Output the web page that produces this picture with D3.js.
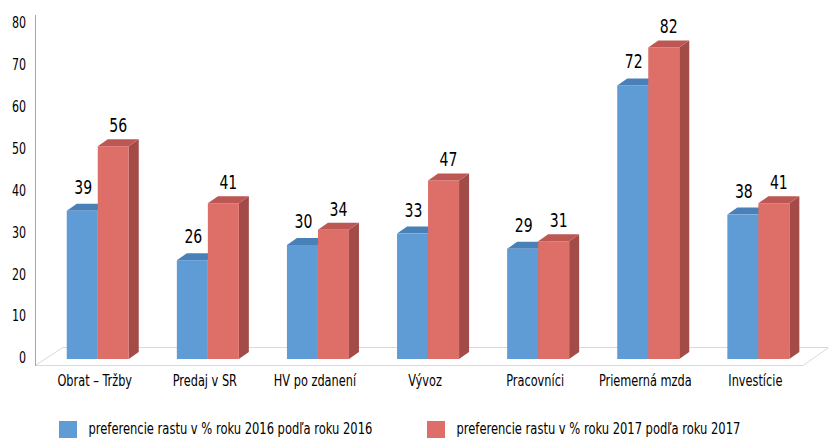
<!DOCTYPE html>
<html><head><meta charset="utf-8">
<script src="https://cdn.jsdelivr.net/npm/d3@7"></script>
<style>
html,body{margin:0;padding:0;background:#fff;}
svg{display:block;font-family:"Liberation Sans Narrow","DejaVu Sans Condensed","Roboto Condensed",sans-serif;}
</style></head>
<body><svg id="c" width="828" height="438"></svg>
<script>
const categories = ["Obrat – Tržby","Predaj v SR","HV po zdanení","Vývoz","Pracovníci","Priemerná mzda","Investície"];
const seriesNames = ["preferencie rastu v % roku 2016 podľa roku 2016","preferencie rastu v % roku 2017 podľa roku 2017"];
const values2016 = [39,26,30,33,29,72,38];
const values2017 = [56,41,34,47,31,82,41];
const yTicks = [0,10,20,30,40,50,60,70,80];

const svg = d3.select("#c");
const fronts = ["#5f9bd4","#dd6e68"];
const tops = ["#4a80b8","#bd5753"];
const sides = ["#3f6f9f","#a24b47"];
const DX = 10, DY = -7;

function condense(sel, k){
  sel.each(function(){
    const w = this.getComputedTextLength();
    d3.select(this).attr("textLength", w*k).attr("lengthAdjust","spacingAndGlyphs");
  });
}

const yAxisScale = d3.scaleLinear().domain([0,80]).range([358,23]);
const yBar = d3.scaleLinear().domain([0,80]).range([359,55]);

const x0 = d3.scaleBand().domain(categories).range([42.7, 42.7+7*110.1]);
const x1 = d3.scaleBand().domain([0,1]).range([0,62]);

const floor = svg.append("g").attr("stroke","#d9d9d9").attr("fill","none").attr("stroke-width",1);
floor.append("path").attr("d","M35,365.5 L803,365.5 L828,348");
floor.append("path").attr("d","M35,365.5 L63,347.5 L828,347.5");

svg.append("line").attr("x1",35.5).attr("x2",35.5).attr("y1",15).attr("y2",366)
  .attr("stroke","#a6a6a6").attr("stroke-width",1);

const yAxis = d3.axisLeft(yAxisScale).tickValues(yTicks).tickSize(0).tickPadding(0);
const ga = svg.append("g").attr("transform","translate(26,0)").call(yAxis);
ga.select(".domain").remove();
ga.selectAll("text").attr("font-size",15).attr("fill","#000")
  .attr("font-family","Liberation Sans Narrow, DejaVu Sans Condensed, sans-serif");
condense(ga.selectAll("text"), 0.82);

const data = categories.map((c,i)=>({c, v:[values2016[i], values2017[i]]}));
const groups = svg.append("g").selectAll("g").data(data).join("g")
  .attr("transform", d=>`translate(${x0(d.c)+x0.bandwidth()/2-31},0)`);

[0,1].forEach(s=>{
  groups.each(function(d){
    const g = d3.select(this);
    const xl = x1(s), xr = x1(s)+x1.bandwidth();
    const yt = yBar(d.v[s]), yb = yBar(0);
    g.append("path").attr("fill",sides[s])
      .attr("d",`M${xr},${yt} L${xr+DX},${yt+DY} L${xr+DX},${yb+DY} L${xr},${yb} Z`);
    g.append("path").attr("fill",tops[s])
      .attr("d",`M${xl},${yt} L${xl+DX},${yt+DY} L${xr+DX},${yt+DY} L${xr},${yt} Z`);
    g.append("rect").attr("x",xl).attr("y",yt).attr("width",xr-xl).attr("height",yb-yt)
      .attr("fill",fronts[s]);
  });
});

groups.each(function(d){
  const g = d3.select(this);
  [0,1].forEach(s=>{
    const cx = x1(s)+x1.bandwidth()/2 + (s===0?1:5);
    g.append("text").attr("class","val").attr("x",cx).attr("y",yBar(d.v[s]) - (s===0?17:14))
      .attr("text-anchor","middle").attr("font-size",20).attr("fill","#000")
      .text(d.v[s]);
  });
});
condense(svg.selectAll("text.val"), 0.78);

const cl = svg.append("g").selectAll("text").data(categories).join("text")
  .attr("x",(c,i)=>x0(c)+x0.bandwidth()/2 - 3)
  .attr("y",386).attr("text-anchor","middle").attr("font-size",15).attr("fill","#000")
  .text(c=>c);
condense(cl, 0.84);

const legX = [59,427];
const leg = svg.append("g");
seriesNames.forEach((n,s)=>{
  leg.append("rect").attr("x",legX[s]).attr("y",421).attr("width",18).attr("height",17).attr("fill",fronts[s]);
  leg.append("text").attr("class","leg").attr("x",legX[s]+29.5).attr("y",433.5).attr("font-size",16).attr("fill","#000").text(n);
});
condense(leg.selectAll("text.leg"), 0.8);
</script></body></html>
